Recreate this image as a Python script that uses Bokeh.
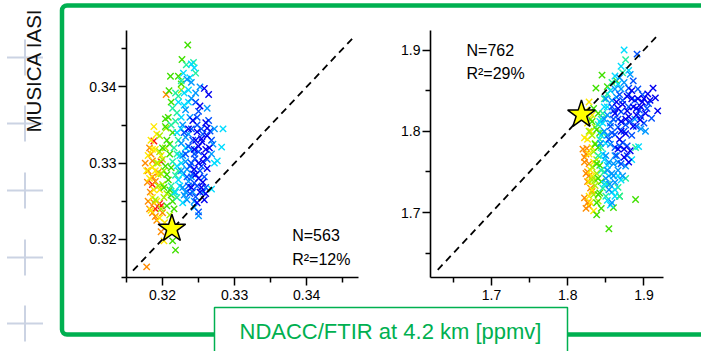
import numpy as np
from bokeh.plotting import figure
from bokeh.models import Range1d, LinearAxis, FixedTicker, ColumnDataSource, LinearColorMapper
from bokeh.core.properties import value
from bokeh.transform import transform
from bokeh.embed import file_html
from bokeh.resources import INLINE

# ---------------- data ----------------
# colour index: 0 dark blue ... 9 red (third variable, jet-like)
PALETTE = ["#0000f0", "#0050ff", "#0098ff", "#00dcff", "#20f0a0",
           "#40e000", "#a8f000", "#ffe800", "#ff8c00", "#ff1010"]

left_x = [0.3258,0.3264,0.3252,0.3260,0.3248,0.3262,0.3255,0.3244,0.3258,0.3250,0.3262,0.3246,0.3256,0.3240,0.3252,0.3258,0.3248,0.3236,0.3242,0.3265,
          0.3250,0.3242,0.3236,0.3254,0.3266,0.3245,0.3238,0.3262,0.3252,0.3234,0.3244,0.3260,0.3238,0.3246,0.3232,0.3268,0.3250,0.3258,0.3230,0.3248,
          0.3240,0.3232,0.3246,0.3228,0.3236,0.3226,0.3232,0.3226,0.3236,0.3228,0.3242,0.3234,0.3244,0.3256,0.3268,0.3272,0.3240,0.3262,0.3230,0.3250,
          0.3284,0.3282,0.3276,0.3272,0.3268,0.3238,0.3244,0.3230,0.3222,0.3226,0.3220,0.3224,0.3220,0.3222,0.3228,0.3218,0.3236,0.3229,
          0.3243,0.3226,0.3218,0.3214,0.3220,0.3212,0.3216,0.3214,0.3218,0.3212,0.3220,0.3246,0.3233,
          0.3235,0.3227,0.3211,0.3209,0.3212,0.3208,0.3204,0.3206,0.3210,0.3204,0.3208,0.3212,0.3216,0.3218,0.3214,0.3222,0.3226,0.3202,0.3206,0.3200,
          0.3196,0.3200,0.3198,0.3194,0.3202,0.3198,0.3210,0.3205,0.3192,0.3226,0.3190,
          0.3188,0.3184,0.3190,0.3180,0.3186,0.3194,0.3182,0.3188,0.3192,0.3184,0.3196,0.3203,0.3178,0.3202,0.3198,
          0.3182,0.3176,0.3186,0.3179,0.3183,0.3188,0.3180,0.3186,0.3192,0.3200,0.3198,0.3205,0.3178,0.3194,0.3190,
          0.3188,0.3198,0.3186,0.3196,0.3198,0.3190]
left_y = [0.3398,0.3390,0.3375,0.3353,0.3341,0.3336,0.3328,0.3318,0.3310,0.3300,0.3293,0.3285,0.3275,0.3268,0.3262,0.3252,0.3248,0.3345,0.3356,0.3320,
          0.3368,0.3330,0.3322,0.3345,0.3342,0.3306,0.3296,0.3305,0.3290,0.3282,0.3274,0.3268,0.3260,0.3256,0.3312,0.3330,0.3236,0.3282,0.3340,0.3360,
          0.3385,0.3370,0.3392,0.3350,0.3338,0.3326,0.3302,0.3290,0.3276,0.3268,0.3262,0.3252,0.3242,0.3262,0.3312,0.3345,0.3406,0.3372,0.3258,0.3231,
          0.3345,0.3321,0.3303,0.3300,0.3266,0.3412,0.3425,0.3392,0.3380,0.3360,0.3340,0.3310,0.3296,0.3278,0.3248,0.3262,0.3396,0.3418,
          0.3432,0.3408,0.3392,0.3372,0.3366,0.3350,0.3320,0.3302,0.3284,0.3270,0.3255,0.3418,0.3429,
          0.3455,0.3436,0.3414,0.3395,0.3380,0.3360,0.3348,0.3330,0.3312,0.3296,0.3278,0.3258,0.3240,0.3186,0.3198,0.3414,0.3404,0.3268,0.3244,0.3320,
          0.3336,0.3305,0.3286,0.3270,0.3255,0.3240,0.3232,0.3346,0.3300,0.3396,0.3252,
          0.3348,0.3330,0.3318,0.3310,0.3295,0.3285,0.3280,0.3265,0.3250,0.3238,0.3228,0.3222,0.3290,0.3198,0.3310,
          0.3320,0.3300,0.3303,0.3275,0.3262,0.3248,0.3250,0.3235,0.3225,0.3235,0.3210,0.3390,0.3164,0.3288,0.3276,
          0.3329,0.3302,0.3272,0.3247,0.3244,0.3240]
left_c = [0]*20 + [1]*20 + [2]*20 + [3]*18 + [4]*13 + [5]*20 + [6]*11 + [7]*15 + [8]*15 + [9]*6

left2_x = [0.3254,0.3260,0.3250,0.3246,0.3262,0.3256,0.3250,0.3244,0.3260,0.3254,
           0.3240,0.3248,0.3256,0.3244,0.3250,0.3240,0.3248,0.3242,0.3254,0.3236,0.3264,0.3246,
           0.3238,0.3232,0.3240,0.3228,0.3234,0.3240,0.3232,0.3244,0.3234,0.3252,0.3270,
           0.3230,0.3226,0.3232,0.3226,0.3228,0.3224,0.3240,0.3236,
           0.3222,0.3218,0.3222,0.3220,0.3222,0.3216,
           0.3214,0.3210,0.3212,0.3206,0.3210,0.3214,0.3204,
           0.3204,0.3202,0.3200,0.3206,0.3196,
           0.3192,0.3186,0.3194,0.3190,0.3196,0.3186,
           0.3184,0.3180,0.3186,0.3182,0.3190]
left2_y = [0.3332,0.3318,0.3322,0.3330,0.3346,0.3302,0.3280,0.3292,0.3260,0.3268,
           0.3345,0.3350,0.3338,0.3312,0.3315,0.3300,0.3270,0.3286,0.3296,0.3270,0.3356,0.3380,
           0.3360,0.3334,0.3318,0.3310,0.3292,0.3282,0.3262,0.3250,0.3410,0.3400,0.3325,
           0.3376,0.3345,0.3320,0.3300,0.3285,0.3270,0.3430,0.3380,
           0.3388,0.3355,0.3330,0.3312,0.3290,0.3262,
           0.3340,0.3325,0.3294,0.3285,0.3265,0.3250,0.3358,
           0.3320,0.3290,0.3272,0.3260,0.3315,
           0.3338,0.3318,0.3300,0.3290,0.3265,0.3255,
           0.3312,0.3290,0.3282,0.3240,0.3230]
left2_c = [0]*10 + [1]*12 + [2]*11 + [3]*8 + [4]*6 + [5]*7 + [6]*5 + [7]*6 + [8]*5

right_x = [1.912,1.915,1.918,1.905,1.898,1.890,1.884,1.878,1.872,1.880,1.870,1.862,1.886,1.876,1.868,1.882,1.874,1.866,1.892,1.880,1.864,1.902,1.895,1.908,
           1.904,1.896,1.888,1.880,1.870,1.860,1.866,1.876,1.884,1.872,1.862,1.856,1.858,1.868,1.892,1.900,1.878,1.864,1.886,1.910,1.891,1.854,1.870,1.880,
           1.896,1.902,1.888,1.852,1.848,1.856,1.850,1.860,1.858,1.866,1.872,1.862,1.854,1.858,1.850,1.874,1.868,1.882,1.862,1.850,1.876,1.843,
           1.874,1.880,1.866,1.856,1.848,1.842,1.844,1.846,1.852,1.848,1.852,1.862,1.856,1.893,1.884,1.870,1.862,
           1.876,1.872,1.858,1.852,1.846,1.840,1.842,1.840,1.844,1.846,1.850,1.866,1.876,1.889,1.868,
           1.845,1.837,1.864,1.834,1.838,1.836,1.838,1.840,1.842,1.838,1.838,1.854,1.889,1.868,1.844,1.860,1.832,
           1.830,1.832,1.834,1.832,1.836,1.834,1.840,1.828,1.836,
           1.828,1.826,1.826,1.828,1.830,1.828,1.832,1.830,1.834,1.822,1.824,
           1.820,1.824,1.822,1.826,1.824,1.828,1.822,1.826,1.824,1.832,1.828,1.825]
right_y = [1.853,1.841,1.825,1.846,1.836,1.828,1.850,1.843,1.833,1.818,1.812,1.822,1.806,1.797,1.790,1.776,1.768,1.778,1.840,1.762,1.836,1.822,1.814,1.838,
           1.828,1.818,1.838,1.830,1.824,1.815,1.805,1.808,1.795,1.786,1.796,1.806,1.830,1.845,1.852,1.810,1.782,1.770,1.862,1.816,1.895,1.790,1.760,1.853,
           1.803,1.800,1.815,1.820,1.800,1.784,1.770,1.760,1.748,1.752,1.745,1.737,1.728,1.712,1.742,1.860,1.866,1.870,1.852,1.840,1.757,1.785,
           1.900,1.875,1.858,1.850,1.830,1.812,1.795,1.772,1.758,1.735,1.715,1.720,1.709,1.781,1.765,1.740,1.728,
           1.888,1.872,1.860,1.846,1.822,1.808,1.790,1.770,1.752,1.730,1.720,1.731,1.742,1.780,1.720,
           1.869,1.853,1.862,1.828,1.802,1.784,1.760,1.742,1.724,1.712,1.697,1.680,1.716,1.720,1.705,1.706,1.812,
           1.815,1.795,1.775,1.756,1.740,1.722,1.714,1.800,1.733,
           1.836,1.810,1.790,1.772,1.752,1.738,1.728,1.712,1.702,1.792,1.826,
           1.778,1.772,1.762,1.750,1.748,1.745,1.718,1.712,1.705,1.726,1.760,1.779]
right_c = [0]*24 + [1]*24 + [2]*22 + [3]*17 + [4]*15 + [5]*17 + [6]*9 + [7]*11 + [8]*12

right2_x = [1.886,1.878,1.870,1.890,1.896,1.876,1.866,1.884,1.900,1.874,
            1.890,1.882,1.874,1.866,1.860,1.872,1.894,1.878,1.868,1.858,1.862,1.880,1.906,1.898,
            1.856,1.852,1.862,1.854,1.866,1.860,1.852,1.864,1.858,1.870,1.855,1.848,
            1.852,1.846,1.850,1.848,1.854,1.858,1.866,1.862,1.870,
            1.848,1.844,1.846,1.844,1.848,1.852,
            1.840,1.842,1.840,1.842,1.844,1.840,1.852,
            1.836,1.836,1.838,1.838,1.832,
            1.832,1.830,1.832,1.834,1.832,1.828,
            1.822,1.826,1.830,1.828]
right2_y = [1.830,1.825,1.800,1.820,1.830,1.815,1.828,1.840,1.840,1.778,
            1.806,1.812,1.800,1.815,1.825,1.838,1.826,1.770,1.782,1.798,1.780,1.845,1.834,1.845,
            1.810,1.795,1.770,1.762,1.762,1.745,1.752,1.842,1.838,1.852,1.735,1.815,
            1.830,1.810,1.785,1.765,1.745,1.725,1.745,1.868,1.880,
            1.840,1.815,1.798,1.780,1.750,1.735,
            1.822,1.798,1.780,1.758,1.738,1.722,1.855,
            1.805,1.785,1.765,1.748,1.740,
            1.820,1.800,1.780,1.762,1.745,1.720,
            1.768,1.738,1.730,1.708]
right2_c = [0]*10 + [1]*14 + [2]*12 + [3]*9 + [4]*6 + [5]*7 + [6]*5 + [7]*6 + [8]*4

diag1 = [0.3159, 0.3467]
diag2 = [1.6295, 1.918]
star1 = ([0.3213], [0.3214])
star2 = ([1.818], [1.8205])
stats1 = ["N=563", "R\u00b2=12%"]
stats2 = ["N=762", "R\u00b2=29%"]
x1_ticks, x1_minor = [0.32, 0.33, 0.34], [0.315, 0.325, 0.335, 0.345]
y1_ticks, y1_minor = [0.32, 0.33, 0.34], [0.315, 0.325, 0.335, 0.345]
x2_ticks, x2_minor = [1.7, 1.8, 1.9], [1.65, 1.75, 1.85]
y2_ticks, y2_minor = [1.7, 1.8, 1.9], [1.65, 1.75, 1.85]
x_title = "NDACC/FTIR at 4.2 km [ppmv]"
y_title = "MUSICA IASI"

# ---------------- layout ----------------
W, H = 701, 351
GREEN = "#00b050"
FONT = "Liberation Sans"

# panel pixel boxes (top-down pixel coordinates) and axis limits
P1 = dict(left=126, right=358, top=30, bottom=277)
P2 = dict(left=430, right=662.5, top=30, bottom=277)
X1_LIM, Y1_LIM = (0.315, 0.3472), (0.315, 0.3474)
X2_LIM, Y2_LIM = (1.62, 1.925), (1.62, 1.924)


def span_range(lim, p0, p1, total):
    k = (lim[1] - lim[0]) / (p1 - p0)
    return Range1d(lim[0] - p0 * k, lim[0] + (total - p0) * k)


p = figure(width=W, height=H, x_range=Range1d(0, W), y_range=Range1d(0, H),
           x_axis_type=None, y_axis_type=None, toolbar_location=None,
           output_backend="svg", min_border=0, title=None)
p.outline_line_color = None
p.background_fill_color = "white"
p.border_fill_color = "white"

p.extra_x_ranges = {"x1": span_range(X1_LIM, P1["left"], P1["right"], W),
                    "x2": span_range(X2_LIM, P2["left"], P2["right"], W)}
p.extra_y_ranges = {"y1": span_range(Y1_LIM, H - P1["bottom"], H - P1["top"], H),
                    "y2": span_range(Y2_LIM, H - P2["bottom"], H - P2["top"], H)}

# ---- decorations (pixel coordinates, y up) ----
p.quad(left=61.5, right=W + 20, bottom=H - 334, top=H - 5, fill_color=None,
       line_color=GREEN, line_width=4.5, border_radius=5)
p.scatter(x=[24.5] * 5, y=[H - 57, H - 123, H - 190, H - 257, H - 323], marker="cross",
          size=36, line_color="#cbd3e3", line_width=2)
p.text(x=[33], y=[H - 132], text=[y_title], angle=np.pi / 2, text_align="left",
       text_baseline="alphabetic", text_font=value(FONT), text_font_size="20.5px",
       text_color="#111111")
p.quad(left=214, right=567, bottom=-20, top=H - 307, fill_color="white",
       line_color=GREEN, line_width=1.5)
p.text(x=[390], y=[H - 331], text=[x_title], text_align="center", text_baseline="middle",
       text_font=value(FONT), text_font_size="22px", text_color=GREEN)

mapper = LinearColorMapper(palette=PALETTE, low=-0.5, high=9.5)


def panel(xn, yn, xs, ys, cs, diag, star, stats, stats_pos, xlim, ylim, xt, xmt, yt, ymt):
    order = np.argsort(-np.array(cs), kind="stable")
    src = ColumnDataSource(dict(x=np.array(xs)[order], y=np.array(ys)[order],
                                c=np.array(cs)[order]))
    p.scatter("x", "y", source=src, marker="x", size=9, line_width=1.4,
              line_color=transform("c", mapper), x_range_name=xn, y_range_name=yn)
    p.line(x=diag, y=diag, line_color="black", line_width=1.8, line_dash="7 5",
           x_range_name=xn, y_range_name=yn)
    p.scatter(x=star[0], y=star[1], marker="star", size=29, fill_color="#ffff00",
              line_color="black", line_width=1.5, x_range_name=xn, y_range_name=yn)
    p.text(x=[stats_pos[0]] * 2, y=stats_pos[1], text=stats, text_align="left",
           text_baseline="alphabetic", text_font=value(FONT), text_font_size="16px",
           text_color="black", x_range_name=xn, y_range_name=yn)
    common = dict(axis_line_width=1.6, axis_line_color="black",
                  major_tick_out=8, major_tick_in=0, minor_tick_out=5, minor_tick_in=0,
                  major_tick_line_width=1.5, minor_tick_line_width=1.5,
                  major_tick_line_color="black", minor_tick_line_color="black",
                  major_label_text_font=FONT, major_label_text_font_size="14px",
                  major_label_text_color="black")
    ax = LinearAxis(x_range_name=xn, y_range_name=yn, fixed_location=ylim[0], bounds=xlim,
                    ticker=FixedTicker(ticks=xt, minor_ticks=xmt), major_label_standoff=4,
                    **common)
    p.add_layout(ax, "below")
    ay = LinearAxis(x_range_name=xn, y_range_name=yn, fixed_location=xlim[0], bounds=ylim,
                    ticker=FixedTicker(ticks=yt, minor_ticks=ymt), major_label_standoff=2,
                    **common)
    p.add_layout(ay, "left")


panel("x1", "y1", left_x + left2_x, left_y + left2_y, left_c + left2_c, diag1, star1, stats1,
      (0.3380, [0.3205, 0.3174]), X1_LIM, Y1_LIM, x1_ticks, x1_minor, y1_ticks, y1_minor)
panel("x2", "y2", right_x + right2_x, right_y + right2_y, right_c + right2_c, diag2, star2, stats2,
      (1.6672, [1.8994, 1.8710]), X2_LIM, Y2_LIM, x2_ticks, x2_minor, y2_ticks, y2_minor)

open("out.html", "w").write(file_html(p, INLINE))
